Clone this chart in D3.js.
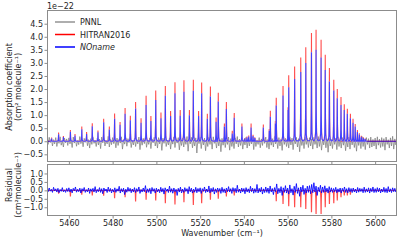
<!DOCTYPE html>
<html><head><meta charset="utf-8">
<script src="https://cdn.jsdelivr.net/npm/d3@7"></script>
<style>body{margin:0;background:#fff}svg{display:block;font-family:"DejaVu Sans",sans-serif}</style>
</head><body><svg id="c" width="401" height="241"></svg>
<script>
// ---- data ----
const linePos = [5452.1,5455.3,5457.5,5460.7,5462.8,5465.9,5468.1,5470.7,5473.3,5475.9,5478.5,5480.9,5483.4,5485.7,5488.1,5490.5,5493.0,5495.3,5497.5,5499.7,5502.1,5504.1,5506.5,5508.5,5510.9,5512.6,5515.1,5516.9,5519.3,5520.7,5523.3,5524.7,5527.3,5528.3,5531.1,5532.0,5534.7,5535.6,5539.1,5540.4,5541.4,5542.2,5543.3,5544.2,5545.0,5548.9,5551.6,5552.1,5554.4,5554.8,5557.9,5560.2,5560.5,5563.2,5566.0,5568.3,5570.9,5573.0,5575.3,5577.2,5579.1,5581.1,5582.7,5584.4,5585.9,5587.3,5588.7,5589.9,5590.9,5591.9,5592.8,5593.7,5594.6,5595.5];
const hitranPeak = [.14,.33,.20,.43,.28,.56,.35,.69,.41,.86,.56,1.06,.74,1.27,.98,1.50,.88,1.74,.97,1.94,1.10,2.12,1.16,2.26,1.20,2.34,1.20,2.35,1.16,2.25,1.05,2.10,.91,1.86,.68,1.50,.40,1.08,.68,.12,.18,.22,.68,.25,.15,.64,.47,1.17,.78,1.67,2.12,1.30,2.53,2.86,3.21,3.60,4.14,4.27,3.89,3.31,2.80,2.35,2.00,1.69,1.42,1.24,1.05,.86,.66,.43,.31,.21,.15,.10];
const nonamePeak = [.10,.27,.16,.36,.22,.46,.28,.57,.34,.73,.45,.86,.63,1.05,.80,1.25,.71,1.39,.78,1.58,.88,1.74,.97,1.84,.98,1.90,1.00,1.93,.97,1.84,.86,1.71,.75,1.52,.56,1.23,.30,.90,.56,.10,.14,.18,.53,.20,.12,.53,.40,.94,.68,1.37,1.75,1.20,2.07,2.38,2.65,3.00,3.41,3.50,3.21,2.73,2.29,1.94,1.65,1.39,1.20,1.05,.88,.71,.56,.35,.26,.17,.12,.08];

// PNNL baseline samples, start 5450 cm-1, step 0.5 cm-1
const pnnlStart = 5450, pnnlStep = 0.5;
const pnnlNoise = [
.08,-.12,.15,-.05,.1,-.18,.06,-.1,.14,-.2,.04,-.08,.17,-.15,.02,-.22,.12,-.06,.09,-.16,
.13,-.1,.05,-.24,.16,-.07,.1,-.19,.03,-.13,.18,-.09,.07,-.21,.11,-.04,.14,-.17,.06,-.26,
.1,-.12,.15,-.08,.04,-.2,.12,-.14,.08,-.28,.16,-.06,.11,-.18,.02,-.1,.19,-.22,.07,-.13,
.14,-.09,.05,-.25,.12,-.16,.09,-.07,.17,-.3,.06,-.11,.13,-.19,.1,-.05,.15,-.24,.04,-.14,
.12,-.2,.08,-.1,.16,-.32,.07,-.15,.11,-.09,.18,-.23,.05,-.12,.13,-.28,.09,-.06,.15,-.18,
.06,-.26,.14,-.1,.1,-.35,.12,-.08,.17,-.2,.04,-.14,.13,-.3,.08,-.11,.16,-.24,.1,-.07,
.14,-.33,.06,-.16,.12,-.22,.09,-.12,.18,-.38,.07,-.1,.15,-.25,.05,-.18,.13,-.45,.1,-.09,
.16,-.28,.08,-.14,.12,-.36,.06,-.2,.15,-.12,.1,-.3,.17,-.08,.04,-.26,.13,-.18,.09,-.4,
.11,-.15,.14,-.24,.07,-.12,.16,-.34,.1,-.2,.05,-.28,.13,-.1,.18,-.22,.08,-.16,.12,-.3,
.06,-.14,.15,-.26,.1,-.18,.08,-.1,.17,-.32,.12,-.2,.05,-.12,.14,-.25,.09,-.16,.13,-.08,
.16,-.24,.07,-.3,.12,-.15,.1,-.22,.18,-.1,.06,-.28,.14,-.18,.09,-.35,.15,-.12,.11,-.2,
.08,-.26,.17,-.14,.12,-.32,.06,-.1,.15,-.22,.1,-.4,.13,-.16,.07,-.28,.16,-.12,.11,-.24,
.14,-.18,.09,-.3,.15,-.12,.06,-.26,.18,-.2,.12,-.34,.08,-.14,.16,-.25,.1,-.42,.13,-.18,
.07,-.28,.15,-.12,.11,-.32,.17,-.2,.09,-.26,.14,-.15,.12,-.36,.06,-.22,.16,-.3,.1,-.14,
.13,-.24,.08,-.38,.15,-.16,.12,-.28,.18,-.2,.09,-.32,.14,-.12,.1,-.26,.16,-.22,.07,-.18,
.12,-.3,.17,-.15,.08,-.24,.14,-.2,.1,-.34,.16,-.12,.06,-.26,.13,-.18,.19,-.3,.09,-.14,.1];

// NOname residual samples, same grid
const resNoname = [
.1,-.08,.14,-.05,.06,-.12,.18,-.04,.09,-.1,.12,-.14,.05,-.06,.16,-.09,.03,-.12,.11,-.07,
.15,-.1,.08,-.15,.12,-.03,.2,-.11,.06,-.08,.13,-.16,.1,-.05,.17,-.12,.04,-.09,.14,-.18,
.09,-.06,.12,-.1,.22,-.14,.05,-.08,.16,-.12,.1,-.2,.14,-.04,.08,-.13,.19,-.07,.11,-.15,
.06,-.1,.15,-.12,.09,-.05,.24,-.16,.1,-.09,.13,-.25,.07,-.11,.18,-.06,.12,-.14,.08,-.1,
.16,-.13,.1,-.07,.2,-.18,.05,-.1,.14,-.08,.28,-.15,.09,-.12,.12,-.2,.17,-.06,.1,-.16,
.13,-.09,.07,-.14,.18,-.1,.11,-.22,.15,-.05,.08,-.13,.25,-.11,.1,-.17,.14,-.08,.06,-.3,
.12,-.1,.19,-.15,.08,-.12,.16,-.06,.1,-.2,.22,-.09,.13,-.16,.07,-.11,.18,-.14,.11,-.08,
.15,-.18,.1,-.06,.2,-.13,.08,-.1,.26,-.15,.12,-.09,.17,-.22,.09,-.12,.14,-.07,.11,-.18,
.18,-.12,.09,-.15,.13,-.08,.22,-.1,.1,-.18,.16,-.06,.12,-.14,.3,-.11,.08,-.16,.14,-.09,
.11,-.2,.16,-.1,.09,-.14,.24,-.08,.13,-.17,.1,-.12,.35,-.15,.12,-.1,.18,-.22,.09,-.13,
.2,-.12,.14,-.18,.26,-.1,.11,-.25,.16,-.08,.38,-.2,.12,-.14,.22,-.3,.15,-.12,.28,-.16,
.13,-.22,.32,-.14,.1,-.28,.24,-.12,.4,-.18,.15,-.35,.2,-.1,.3,-.24,.12,-.16,.25,-.12,
.28,-.2,.35,-.14,.45,-.1,.25,-.3,.18,-.08,.3,-.15,.2,-.12,.27,-.09,.13,-.16,.22,-.1,
.15,-.12,.11,-.08,.18,-.14,.09,-.1,.14,-.16,.12,-.07,.2,-.12,.1,-.15,.16,-.09,.11,-.13,
.14,-.1,.08,-.15,.17,-.11,.12,-.07,.1,-.14,.19,-.12,.09,-.1,.15,-.16,.12,-.08,.2,-.13,
.1,-.12,.16,-.09,.13,-.15,.08,-.1,.18,-.12,.11,-.14,.22,-.1,.09,-.13,.15,-.08,.12,-.1,.05];

// HITRAN2016 residual dips
const resPos = [5455.3,5460.7,5465.9,5470.7,5475.9,5480.9,5485.7,5490.5,5495.3,5499.7,5504.1,5508.5,5512.6,5516.9,5520.7,5524.7,5528.3,5532.0,5535.6,5554.8,5557.9,5560.5,5563.2,5566.0,5568.3,5570.9,5573.0,5575.3,5577.2,5579.1,5581.1,5582.7,5584.4,5585.9,5587.3,5588.7];
const resHitran = [-.2,-.36,-.25,-.3,-.32,-.46,-.4,-.66,-.56,-.6,-.76,-.84,-.7,-.86,-.76,-.56,-.5,-.36,-.3,-.64,-.8,-.94,-1.0,-1.0,-1.1,-1.3,-1.4,-1.4,-1.0,-.8,-.76,-.6,-.4,-.3,-.3,-.25];

const xTicks = [5460,5480,5500,5520,5540,5560,5580,5600];
const yTopTicks = [-0.5,0,0.5,1,1.5,2,2.5,3,3.5,4,4.5];
const yBotTicks = [-1,-0.5,0,0.5,1];
const seriesNames = ["PNNL","HITRAN2016","NOname"];

// ---- drawing ----
const svg = d3.select("#c");
const L = 47, R = 397;
const x = d3.scaleLinear().domain([5450,5610]).range([L,R]);
const yTop = d3.scaleLinear().domain([-0.794,5.025]).range([162,10]);
const yBot = d3.scaleLinear().domain([-1.5,1.56]).range([215.7,164]);
const colors = {PNNL:"#808080", HITRAN2016:"#ff0000", NOname:"#0000ff"};

svg.append("defs").html(
 '<clipPath id="cpT"><rect x="47" y="10" width="350" height="152"/></clipPath>'+
 '<clipPath id="cpB"><rect x="47" y="164" width="350" height="51.7"/></clipPath>');

// line profile (display shape of a single line)
const offs = [-0.9,-0.45,-0.22,-0.1,0,0.1,0.22,0.45,0.9];
const g = 0.07;
function spectrumPoints(pos, peaks, withBase){
  const pts = withBase ? [[5450,0]] : [];
  const idx = d3.range(pos.length).sort((a,b)=>pos[a]-pos[b]);
  idx.forEach(i=>{
    offs.forEach(o=>{ pts.push([pos[i]+o, peaks[i]*g*g/(g*g+o*o)]); });
  });
  if(withBase) pts.push([5610,0]);
  return pts;
}
const noisePts = arr => arr.map((v,i)=>[pnnlStart+i*pnnlStep, v]);

const lineT = d3.line().x(d=>x(d[0])).y(d=>yTop(d[1]));
const lineB = d3.line().x(d=>x(d[0])).y(d=>yBot(d[1]));

const gT = svg.append("g").attr("clip-path","url(#cpT)");
gT.append("path").attr("d", lineT(noisePts(pnnlNoise))).attr("fill","none")
  .attr("stroke",colors.PNNL).attr("stroke-opacity",0.85).attr("stroke-width",0.9);
gT.append("path").attr("d", lineT(spectrumPoints(linePos,hitranPeak,true))).attr("fill","none")
  .attr("stroke",colors.HITRAN2016).attr("stroke-opacity",0.7).attr("stroke-width",1.1);
// white underlay so the translucent blue covers the red peaks
gT.append("path").attr("d", lineT(spectrumPoints(linePos,nonamePeak,false))).attr("fill","none")
  .attr("stroke","#fff").attr("stroke-width",1.1);
gT.append("path").attr("d", lineT(spectrumPoints(linePos,nonamePeak,true))).attr("fill","none")
  .attr("stroke",colors.NOname).attr("stroke-opacity",0.75).attr("stroke-width",1.1);

const gB = svg.append("g").attr("clip-path","url(#cpB)");
gB.append("path").attr("d", lineB(spectrumPoints(resPos,resHitran,true))).attr("fill","none")
  .attr("stroke",colors.HITRAN2016).attr("stroke-opacity",0.7).attr("stroke-width",1.2);
gB.append("path").attr("d", lineB(noisePts(resNoname))).attr("fill","none")
  .attr("stroke",colors.NOname).attr("stroke-opacity",0.85).attr("stroke-width",1);

// frames
const frameCol = "#8c8c8c";
svg.append("rect").attr("x",47.5).attr("y",10.5).attr("width",349).attr("height",151)
  .attr("fill","none").attr("stroke",frameCol);
svg.append("rect").attr("x",47.5).attr("y",164.5).attr("width",349).attr("height",51)
  .attr("fill","none").attr("stroke",frameCol);

function styleAxis(s){
  s.select(".domain").remove();
  s.selectAll(".tick line").attr("stroke",frameCol);
  s.selectAll(".tick text").attr("fill","#262626").style("font-size","8px")
   .style("font-family","'DejaVu Sans',sans-serif");
}
const fmt1 = d3.format(".1f");
svg.append("g").attr("transform","translate(47.5,0)")
  .call(d3.axisLeft(yTop).tickValues(yTopTicks).tickFormat(fmt1).tickSize(3).tickPadding(1.5)).call(styleAxis);
svg.append("g").attr("transform","translate(47.5,0)")
  .call(d3.axisLeft(yBot).tickValues(yBotTicks).tickFormat(fmt1).tickSize(3).tickPadding(1.5)).call(styleAxis);
svg.append("g").attr("transform","translate(0,161.5)")
  .call(d3.axisBottom(x).tickValues(xTicks).tickFormat("").tickSize(3)).call(styleAxis);
svg.append("g").attr("transform","translate(0,215.5)")
  .call(d3.axisBottom(x).tickValues(xTicks).tickFormat(d3.format("d")).tickSize(3).tickPadding(1.5)).call(styleAxis);

const txt = (xx,yy,s)=>svg.append("text").attr("x",xx).attr("y",yy).text(s)
  .attr("fill","#262626").style("font-size","8px");
txt(47,9,"1e\u221222");
txt(222,236,"Wavenumber (cm\u207B\u00B9)").attr("text-anchor","middle");
svg.append("text").attr("transform","translate(11.7,87) rotate(-90)").attr("text-anchor","middle")
  .style("font-size","8px").attr("fill","#262626").text("Absorption coefficient");
svg.append("text").attr("transform","translate(20.5,87) rotate(-90)").attr("text-anchor","middle")
  .style("font-size","8px").attr("fill","#262626").text("(cm\u00B2 molecule\u207B\u00B9)");
svg.append("text").attr("transform","translate(11.7,185) rotate(-90)").attr("text-anchor","middle")
  .style("font-size","8px").attr("fill","#262626").text("Residual");
svg.append("text").attr("transform","translate(20.5,185) rotate(-90)").attr("text-anchor","middle")
  .style("font-size","8px").attr("fill","#262626").text("(cm\u00B2molecule\u207B\u00B9)");

// legend
const legY = [22,34.5,47];
seriesNames.forEach((n,i)=>{
  svg.append("line").attr("x1",55).attr("x2",75).attr("y1",legY[i]).attr("y2",legY[i])
    .attr("stroke",colors[n]).attr("stroke-width",1.5).attr("stroke-opacity",n==="PNNL"?0.85:1);
  const t = txt(80,legY[i]+3,n);
  if(n==="NOname") t.style("font-style","italic");
});
</script></body></html>
